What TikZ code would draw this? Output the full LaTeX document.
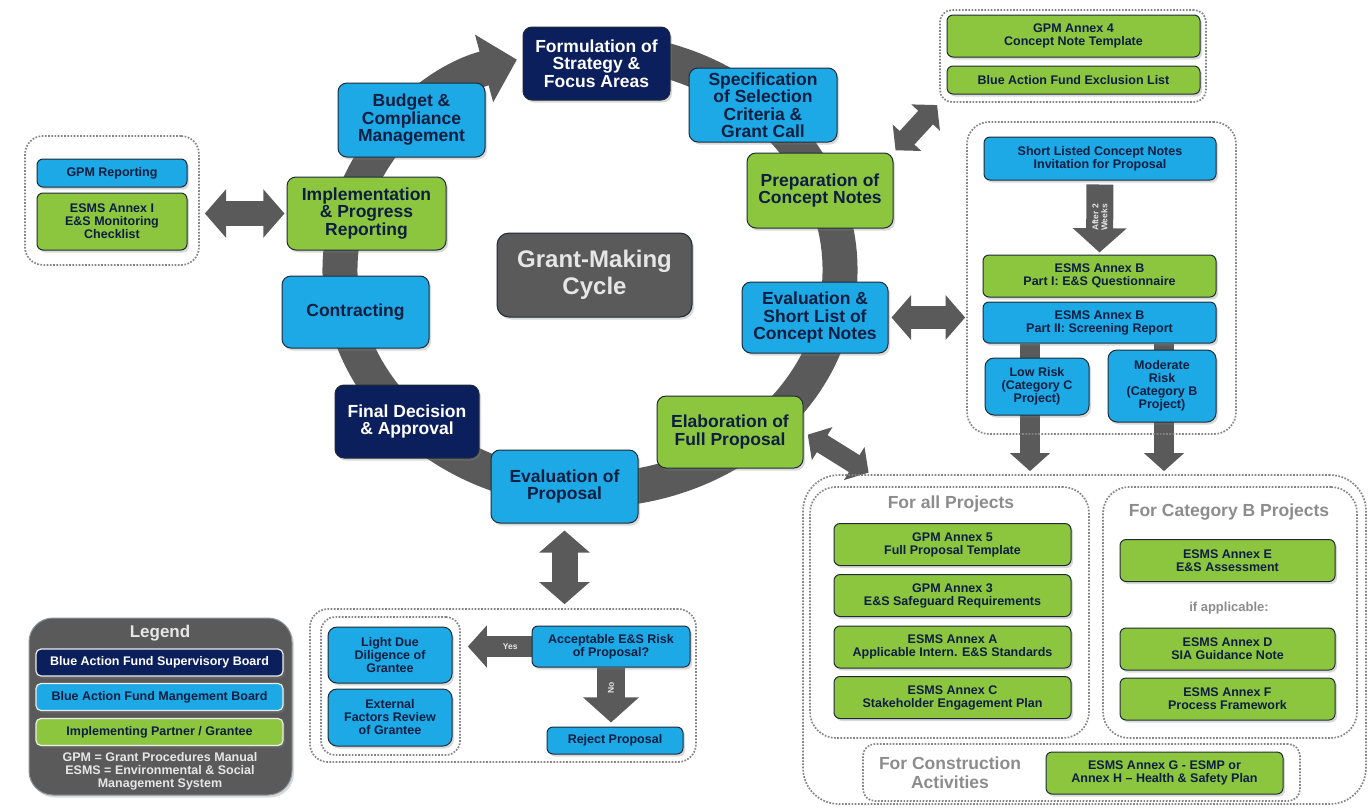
\documentclass[tikz,border=0pt]{standalone}
\usepackage{fontspec}
\setmainfont{Liberation Sans}
\usepackage{tikz}
\usetikzlibrary{arrows.meta,backgrounds,shadows}
\definecolor{gmNavy}{HTML}{0B1F5C}
\definecolor{gmBlue}{HTML}{1CA9E6}
\definecolor{gmGreen}{HTML}{8CC63F}
\definecolor{gmGrey}{HTML}{5A5A5A}
\definecolor{gmInk}{HTML}{0E1E40}
\definecolor{gmEdge}{HTML}{1E2B36}
\definecolor{gmDots}{HTML}{858585}
\definecolor{gmLabel}{HTML}{8C8C8C}
\definecolor{gmPale}{HTML}{E6E6E6}
\tikzset{
  gm diagram/.style={x=1pt, y=-1pt, line join=round},
  gm shadow/.style={drop shadow={opacity=0.3, shadow xshift=2pt, shadow yshift=-2.5pt}},
  gm box/.style={draw=gmEdge, line width=1pt, rounded corners=9pt, align=center,
    inner sep=1pt, text=gmInk, gm shadow},
  gm step/.style={gm box, font=\bfseries\fontsize{17.5}{17.5}\selectfont,
    minimum width=147pt, minimum height=73pt},
  gm doc/.style={gm box, rounded corners=6pt, font=\bfseries\fontsize{12.5}{13}\selectfont},
  gm sheet/.style={gm doc, fill=gmGreen, minimum width=237pt, minimum height=42pt},
  gm key/.style={gm doc, draw=white!90!gmGrey, line width=1.2pt, rounded corners=5pt,
    minimum width=247pt, minimum height=27pt},
  gm navy/.style={fill=gmNavy, text=white},
  gm blue/.style={fill=gmBlue},
  gm green/.style={fill=gmGreen},
  gm holder/.style={draw=gmDots, line width=1.7pt, dash pattern=on 1.7pt off 1.5pt,
    rounded corners=18pt, inner sep=0pt},
  gm title/.style={font=\bfseries\fontsize{17.5}{19.5}\selectfont, text=gmLabel, align=center},
  gm tag/.style={font=\bfseries\fontsize{8.5}{9}\selectfont, text=gmPale, align=center},
  gm ring/.style={draw=gmGrey, line width=35pt, -{Triangle[length=34pt 0,width=68pt 0]}},
  gm push/.style={draw=gmGrey, line width=#1, -{Triangle[length=0pt 0.9,width=0pt 1.95]}},
  gm both/.style={draw=gmGrey, line width=#1,
    {Triangle[length=0pt 0.85,width=0pt 1.9]}-{Triangle[length=0pt 0.85,width=0pt 1.9]}}
}
\begin{document}
\begin{tikzpicture}[gm diagram]
\path[use as bounding box] (0,0) rectangle (1371,807);

\node[gm step, gm navy] (form) at (596.5,63.5) {Formulation of\\Strategy \&\\Focus Areas};
\node[gm step, gm blue, minimum width=148pt, minimum height=74pt] (spec) at (763,105) {Specification\\of Selection\\Criteria \&\\Grant Call};
\node[gm step, gm green, minimum width=146pt, minimum height=75pt] (prep) at (820,190.5) {Preparation of\\Concept Notes};
\node[gm step, gm blue, minimum width=146pt, minimum height=71pt] (evsh) at (815,317.5) {Evaluation \&\\Short List of\\Concept Notes};
\node[gm step, gm green, minimum width=146pt, minimum height=72pt] (elab) at (730,432) {Elaboration of\\Full Proposal};
\node[gm step, gm blue] (evprop) at (564.5,486.5) {Evaluation of\\Proposal};
\node[gm step, gm navy, minimum width=144pt] (final) at (407,421.5) {Final Decision\\\& Approval};
\node[gm step, gm blue, minimum height=72pt] (contr) at (355.5,312) {Contracting};
\node[gm step, gm green, minimum width=159pt] (impl) at (366.5,213.5) {Implementation\\\& Progress\\Reporting};
\node[gm step, gm blue, minimum height=74pt] (budget) at (411.5,120) {Budget \&\\Compliance\\Management};
\node[gm step, fill=gmGrey, text=gmPale, minimum width=195pt, minimum height=84pt, rounded corners=12pt,
  font=\bfseries\fontsize{24}{27}\selectfont] (cycle) at (594.5,275) {Grant-Making\\Cycle};

\node[gm holder, minimum width=174pt, minimum height=129pt] (reporting) at (112,200.5) {};
\node[gm doc, gm blue, minimum width=150pt, minimum height=28pt] (gpmrep) at (112,173) {GPM Reporting};
\node[gm doc, gm green, minimum width=150pt, minimum height=57pt] (annexi) at (112,221.5) {ESMS Annex I\\E\&S Monitoring\\Checklist};

\node[gm holder, rounded corners=12pt, minimum width=266pt, minimum height=92pt] (docs) at (1073,56) {};
\node[gm doc, gm green, minimum width=253pt, minimum height=42pt] (annexfour) at (1073.5,36) {GPM Annex 4\\Concept Note Template};
\node[gm doc, gm green, minimum width=253pt, minimum height=28pt] (exclusion) at (1073.5,80) {Blue Action Fund Exclusion List};

\node[gm holder, rounded corners=22pt, minimum width=269pt, minimum height=312pt] (review) at (1101.5,278) {};
\node[gm doc, gm blue, minimum width=232pt, minimum height=43pt] (short) at (1100,158.5) {Short Listed Concept Notes\\Invitation for Proposal};
\node[gm doc, gm green, minimum width=233pt, minimum height=42pt] (partone) at (1099.5,276) {ESMS Annex B\\Part I: E\&S Questionnaire};
\node[gm doc, gm blue, minimum width=233pt, minimum height=41pt] (parttwo) at (1099.5,322.5) {ESMS Annex B\\Part II: Screening Report};
\node[gm doc, gm blue, rounded corners=9pt, minimum width=104pt, minimum height=57pt] (lowrisk) at (1037,386.5) {Low Risk\\(Category C\\Project)};
\node[gm doc, gm blue, rounded corners=9pt, minimum width=108pt, minimum height=72pt] (modrisk) at (1162,386) {Moderate\\Risk\\(Category B\\Project)};

\node[gm holder, rounded corners=36pt, minimum width=563pt, minimum height=329pt] (bigbox) at (1084.5,639.5) {};
\node[gm holder, rounded corners=26pt, minimum width=279pt, minimum height=251pt] (allproj) at (949.5,612.5) {};
\node[gm holder, rounded corners=26pt, minimum width=254pt, minimum height=251pt] (catb) at (1230,612.5) {};
\node[gm holder, rounded corners=12pt, minimum width=437pt, minimum height=57pt] (constr) at (1081.5,772.5) {};
\node[gm title] (allhead) at (951,504) {For all Projects};
\node[gm title] (catbhead) at (1229,512) {For Category B Projects};
\node[gm title] (constrhead) at (950,772.5) {For Construction\\Activities};
\node[gm sheet] (annexfive) at (952.5,544.5) {GPM Annex 5\\Full Proposal Template};
\node[gm sheet] (annexthree) at (952.5,595.5) {GPM Annex 3\\E\&S Safeguard Requirements};
\node[gm sheet] (annexa) at (952.5,647) {ESMS Annex A\\Applicable Intern. E\&S Standards};
\node[gm sheet] (annexc) at (952.5,697.5) {ESMS Annex C\\Stakeholder Engagement Plan};
\node[gm sheet, minimum width=215pt] (annexe) at (1227.5,560.5) {ESMS Annex E\\E\&S Assessment};
\node[gm title, font=\bfseries\fontsize{13}{15}\selectfont] (ifapp) at (1229,608) {if applicable:};
\node[gm sheet, minimum width=215pt] (annexd) at (1227.5,649) {ESMS Annex D\\SIA Guidance Note};
\node[gm sheet, minimum width=215pt] (annexf) at (1227.5,699) {ESMS Annex F\\Process Framework};
\node[gm sheet] (annexg) at (1164.5,773) {ESMS Annex G - ESMP or\\Annex H -- Health \& Safety Plan};

\node[gm holder, minimum width=386pt, minimum height=153pt] (decide) at (503,685.5) {};
\node[gm holder, rounded corners=14pt, minimum width=139pt, minimum height=138pt] (diligence) at (390.5,686) {};
\node[gm doc, gm blue, rounded corners=9pt, minimum width=124pt, minimum height=56pt] (lightdd) at (390,655) {Light Due\\Diligence of\\Grantee};
\node[gm doc, gm blue, rounded corners=9pt, minimum width=124pt, minimum height=57pt] (external) at (390,717.5) {External\\Factors Review\\of Grantee};
\node[gm doc, gm blue, minimum width=158pt, minimum height=41pt] (accept) at (611,646.5) {Acceptable E\&S Risk\\of Proposal?};
\node[gm doc, gm blue, minimum width=136pt, minimum height=27pt] (reject) at (615,740.5) {Reject Proposal};

\node[fill=gmGrey, draw=gmEdge!50, line width=1pt, rounded corners=24pt, minimum width=263pt,
  minimum height=177pt, gm shadow] (legend) at (160.5,706.5) {};
\node[font=\bfseries\fontsize{17}{19}\selectfont, text=gmPale] (legendhead) at (160,633) {Legend};
\node[gm key, gm navy] (keyboard) at (159.5,662.5) {Blue Action Fund Supervisory Board};
\node[gm key, gm blue] (keymgmt) at (159.5,697) {Blue Action Fund Mangement Board};
\node[gm key, gm green] (keyimpl) at (159.5,732) {Implementing Partner / Grantee};
\node[font=\bfseries\fontsize{12.5}{13}\selectfont, text=gmPale, align=center] (glossary) at (160,771)
  {GPM = Grant Procedures Manual\\ESMS = Environmental \& Social\\Management System};

\begin{scope}[on background layer]
\draw[gm ring] (590,270) ++(-80:250 and 220) arc[start angle=-80, end angle=253, x radius=250, y radius=220];
\draw[gm both=25pt, shorten <=5pt, shorten >=2pt] (impl.west -| reporting.east) -- (impl.west);
\draw[gm both=20pt, shorten <=3pt, shorten >=3pt] (prep.north east) -- (docs.south west);
\draw[gm both=23pt, shorten <=3pt, shorten >=1pt] (evsh.east) -- (evsh.east -| review.west);
\draw[gm push=27pt, shorten <=4pt, shorten >=2pt] (short.south) -- (partone.north)
  node[midway, gm tag, rotate=90] {After 2\\Weeks};
\draw[gm push=20pt, shorten >=3pt] ([xshift=-7pt]lowrisk.center |- parttwo.south) -- ([xshift=-7pt]lowrisk.center |- bigbox.north);
\draw[gm push=20pt, shorten >=3pt] ([xshift=2pt]modrisk.center |- parttwo.south) -- ([xshift=2pt]modrisk.center |- bigbox.north);
\draw[gm both=20pt, shorten <=5pt, shorten >=3pt] (elab.east) -- ([xshift=69pt]bigbox.north west);
\draw[gm both=26pt, shorten <=7pt, shorten >=4pt] (evprop.south) -- (evprop.south |- decide.north);
\draw[gm push=21pt, shorten >=7pt] (accept.west) -- (accept.west -| diligence.east)
  node[pos=0.3, gm tag] {Yes};
\draw[gm push=28pt, shorten >=4pt] (accept.south) -- (accept.south |- reject.north)
  node[pos=0.35, gm tag, rotate=90] {No};
\end{scope}
\end{tikzpicture}
\end{document}
